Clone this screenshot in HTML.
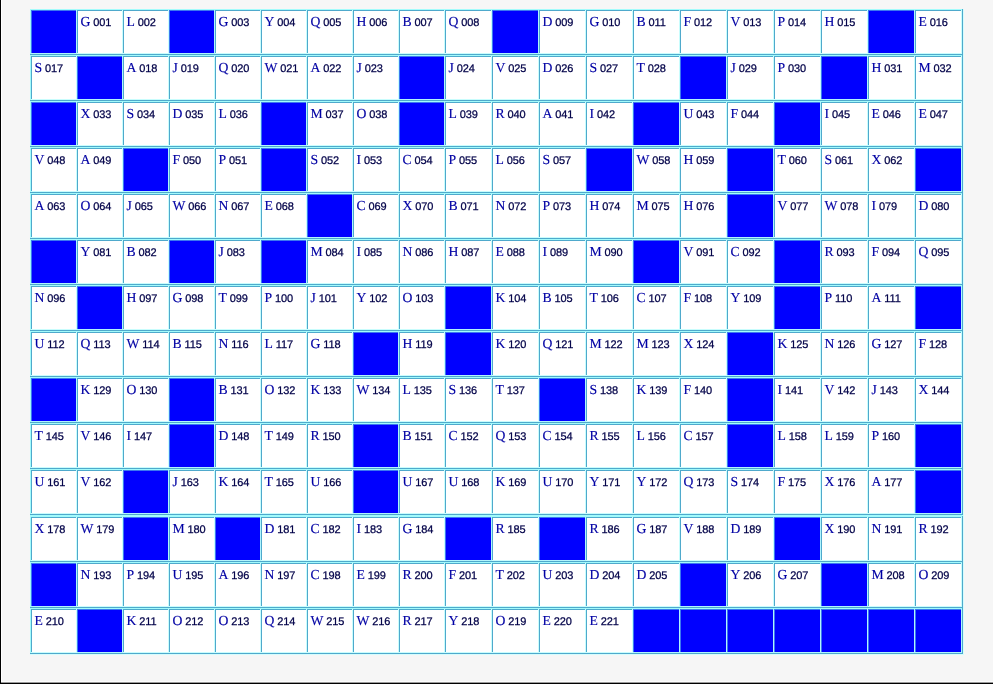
<!DOCTYPE html>
<html lang="en"><head><meta charset="utf-8"><title>Grid</title>
<style>
html,body{margin:0;padding:0}
body{width:993px;height:684px;overflow:hidden;background:#f6f6f6;position:relative;font-family:"Liberation Serif",serif;}
#fl{position:absolute;left:0;top:0;width:1px;height:684px;background:#000}
#fl2{position:absolute;left:1px;top:0;width:1px;height:682px;background:#fff}
#fb2{position:absolute;left:1px;top:681px;width:992px;height:1px;background:#fdfdfd}
#fb3{position:absolute;left:1px;top:682px;width:992px;height:1px;background:#9a9a9a}
#fb{position:absolute;left:0;top:683px;width:993px;height:1px;background:#000}
#g{position:absolute;left:30px;top:9px;width:934px;height:646px;background:#d6fdfd}
#gap{position:absolute;left:0;top:506px;width:933px;height:1px;background:#a2fbfb}
.r{position:absolute;left:0;width:933px;height:46px;box-shadow:inset -1px -1px 0 #4fa9cc,inset 1px 1px 0 #a2fbfb;}
.c{position:absolute;top:1px;height:44px;box-sizing:border-box;background:#fff;box-shadow:inset -1px -1px 0 #c8fdfd,inset 1px 1px 0 #4fa9cc;padding:4px 0 0 3.5px;white-space:nowrap;line-height:15px;font-size:13.7px;color:#0000a4;-webkit-text-stroke:0.15px #0000a4;text-rendering:geometricPrecision;overflow:hidden}
.c.b{background:#0000ff;box-shadow:inset -1px -1px 0 #b0f4fd,inset 1px 1px 0 #3c78f0}
.c i{font-style:normal;font-family:"Liberation Sans",sans-serif;font-size:11px;color:#000048;-webkit-text-stroke:0.25px #000048;letter-spacing:-0.12px}
</style></head>
<body>
<div id="g">
<div id="gap"></div>
<div class="r" style="top:0px">
<div class="c b" style="left:1px;width:46px"></div>
<div class="c" style="left:47px;width:46px">G<i> 001</i></div>
<div class="c" style="left:93px;width:46px">L<i> 002</i></div>
<div class="c b" style="left:139px;width:46px"></div>
<div class="c" style="left:185px;width:46px">G<i> 003</i></div>
<div class="c" style="left:231px;width:46px">Y<i> 004</i></div>
<div class="c" style="left:277px;width:46px">Q<i> 005</i></div>
<div class="c" style="left:323px;width:46px">H<i> 006</i></div>
<div class="c" style="left:369px;width:46px">B<i> 007</i></div>
<div class="c" style="left:415px;width:47px">Q<i> 008</i></div>
<div class="c b" style="left:462px;width:47px"></div>
<div class="c" style="left:509px;width:47px">D<i> 009</i></div>
<div class="c" style="left:556px;width:47px">G<i> 010</i></div>
<div class="c" style="left:603px;width:47px">B<i> 011</i></div>
<div class="c" style="left:650px;width:47px">F<i> 012</i></div>
<div class="c" style="left:697px;width:47px">V<i> 013</i></div>
<div class="c" style="left:744px;width:47px">P<i> 014</i></div>
<div class="c" style="left:791px;width:47px">H<i> 015</i></div>
<div class="c b" style="left:838px;width:47px"></div>
<div class="c" style="left:885px;width:47px">E<i> 016</i></div>
</div>
<div class="r" style="top:46px">
<div class="c" style="left:1px;width:46px">S<i> 017</i></div>
<div class="c b" style="left:47px;width:46px"></div>
<div class="c" style="left:93px;width:46px">A<i> 018</i></div>
<div class="c" style="left:139px;width:46px">J<i> 019</i></div>
<div class="c" style="left:185px;width:46px">Q<i> 020</i></div>
<div class="c" style="left:231px;width:46px">W<i> 021</i></div>
<div class="c" style="left:277px;width:46px">A<i> 022</i></div>
<div class="c" style="left:323px;width:46px">J<i> 023</i></div>
<div class="c b" style="left:369px;width:46px"></div>
<div class="c" style="left:415px;width:47px">J<i> 024</i></div>
<div class="c" style="left:462px;width:47px">V<i> 025</i></div>
<div class="c" style="left:509px;width:47px">D<i> 026</i></div>
<div class="c" style="left:556px;width:47px">S<i> 027</i></div>
<div class="c" style="left:603px;width:47px">T<i> 028</i></div>
<div class="c b" style="left:650px;width:47px"></div>
<div class="c" style="left:697px;width:47px">J<i> 029</i></div>
<div class="c" style="left:744px;width:47px">P<i> 030</i></div>
<div class="c b" style="left:791px;width:47px"></div>
<div class="c" style="left:838px;width:47px">H<i> 031</i></div>
<div class="c" style="left:885px;width:47px">M<i> 032</i></div>
</div>
<div class="r" style="top:92px">
<div class="c b" style="left:1px;width:46px"></div>
<div class="c" style="left:47px;width:46px">X<i> 033</i></div>
<div class="c" style="left:93px;width:46px">S<i> 034</i></div>
<div class="c" style="left:139px;width:46px">D<i> 035</i></div>
<div class="c" style="left:185px;width:46px">L<i> 036</i></div>
<div class="c b" style="left:231px;width:46px"></div>
<div class="c" style="left:277px;width:46px">M<i> 037</i></div>
<div class="c" style="left:323px;width:46px">O<i> 038</i></div>
<div class="c b" style="left:369px;width:46px"></div>
<div class="c" style="left:415px;width:47px">L<i> 039</i></div>
<div class="c" style="left:462px;width:47px">R<i> 040</i></div>
<div class="c" style="left:509px;width:47px">A<i> 041</i></div>
<div class="c" style="left:556px;width:47px">I<i> 042</i></div>
<div class="c b" style="left:603px;width:47px"></div>
<div class="c" style="left:650px;width:47px">U<i> 043</i></div>
<div class="c" style="left:697px;width:47px">F<i> 044</i></div>
<div class="c b" style="left:744px;width:47px"></div>
<div class="c" style="left:791px;width:47px">I<i> 045</i></div>
<div class="c" style="left:838px;width:47px">E<i> 046</i></div>
<div class="c" style="left:885px;width:47px">E<i> 047</i></div>
</div>
<div class="r" style="top:138px">
<div class="c" style="left:1px;width:46px">V<i> 048</i></div>
<div class="c" style="left:47px;width:46px">A<i> 049</i></div>
<div class="c b" style="left:93px;width:46px"></div>
<div class="c" style="left:139px;width:46px">F<i> 050</i></div>
<div class="c" style="left:185px;width:46px">P<i> 051</i></div>
<div class="c b" style="left:231px;width:46px"></div>
<div class="c" style="left:277px;width:46px">S<i> 052</i></div>
<div class="c" style="left:323px;width:46px">I<i> 053</i></div>
<div class="c" style="left:369px;width:46px">C<i> 054</i></div>
<div class="c" style="left:415px;width:47px">P<i> 055</i></div>
<div class="c" style="left:462px;width:47px">L<i> 056</i></div>
<div class="c" style="left:509px;width:47px">S<i> 057</i></div>
<div class="c b" style="left:556px;width:47px"></div>
<div class="c" style="left:603px;width:47px">W<i> 058</i></div>
<div class="c" style="left:650px;width:47px">H<i> 059</i></div>
<div class="c b" style="left:697px;width:47px"></div>
<div class="c" style="left:744px;width:47px">T<i> 060</i></div>
<div class="c" style="left:791px;width:47px">S<i> 061</i></div>
<div class="c" style="left:838px;width:47px">X<i> 062</i></div>
<div class="c b" style="left:885px;width:47px"></div>
</div>
<div class="r" style="top:184px">
<div class="c" style="left:1px;width:46px">A<i> 063</i></div>
<div class="c" style="left:47px;width:46px">O<i> 064</i></div>
<div class="c" style="left:93px;width:46px">J<i> 065</i></div>
<div class="c" style="left:139px;width:46px">W<i> 066</i></div>
<div class="c" style="left:185px;width:46px">N<i> 067</i></div>
<div class="c" style="left:231px;width:46px">E<i> 068</i></div>
<div class="c b" style="left:277px;width:46px"></div>
<div class="c" style="left:323px;width:46px">C<i> 069</i></div>
<div class="c" style="left:369px;width:46px">X<i> 070</i></div>
<div class="c" style="left:415px;width:47px">B<i> 071</i></div>
<div class="c" style="left:462px;width:47px">N<i> 072</i></div>
<div class="c" style="left:509px;width:47px">P<i> 073</i></div>
<div class="c" style="left:556px;width:47px">H<i> 074</i></div>
<div class="c" style="left:603px;width:47px">M<i> 075</i></div>
<div class="c" style="left:650px;width:47px">H<i> 076</i></div>
<div class="c b" style="left:697px;width:47px"></div>
<div class="c" style="left:744px;width:47px">V<i> 077</i></div>
<div class="c" style="left:791px;width:47px">W<i> 078</i></div>
<div class="c" style="left:838px;width:47px">I<i> 079</i></div>
<div class="c" style="left:885px;width:47px">D<i> 080</i></div>
</div>
<div class="r" style="top:230px">
<div class="c b" style="left:1px;width:46px"></div>
<div class="c" style="left:47px;width:46px">Y<i> 081</i></div>
<div class="c" style="left:93px;width:46px">B<i> 082</i></div>
<div class="c b" style="left:139px;width:46px"></div>
<div class="c" style="left:185px;width:46px">J<i> 083</i></div>
<div class="c b" style="left:231px;width:46px"></div>
<div class="c" style="left:277px;width:46px">M<i> 084</i></div>
<div class="c" style="left:323px;width:46px">I<i> 085</i></div>
<div class="c" style="left:369px;width:46px">N<i> 086</i></div>
<div class="c" style="left:415px;width:47px">H<i> 087</i></div>
<div class="c" style="left:462px;width:47px">E<i> 088</i></div>
<div class="c" style="left:509px;width:47px">I<i> 089</i></div>
<div class="c" style="left:556px;width:47px">M<i> 090</i></div>
<div class="c b" style="left:603px;width:47px"></div>
<div class="c" style="left:650px;width:47px">V<i> 091</i></div>
<div class="c" style="left:697px;width:47px">C<i> 092</i></div>
<div class="c b" style="left:744px;width:47px"></div>
<div class="c" style="left:791px;width:47px">R<i> 093</i></div>
<div class="c" style="left:838px;width:47px">F<i> 094</i></div>
<div class="c" style="left:885px;width:47px">Q<i> 095</i></div>
</div>
<div class="r" style="top:276px">
<div class="c" style="left:1px;width:46px">N<i> 096</i></div>
<div class="c b" style="left:47px;width:46px"></div>
<div class="c" style="left:93px;width:46px">H<i> 097</i></div>
<div class="c" style="left:139px;width:46px">G<i> 098</i></div>
<div class="c" style="left:185px;width:46px">T<i> 099</i></div>
<div class="c" style="left:231px;width:46px">P<i> 100</i></div>
<div class="c" style="left:277px;width:46px">J<i> 101</i></div>
<div class="c" style="left:323px;width:46px">Y<i> 102</i></div>
<div class="c" style="left:369px;width:46px">O<i> 103</i></div>
<div class="c b" style="left:415px;width:47px"></div>
<div class="c" style="left:462px;width:47px">K<i> 104</i></div>
<div class="c" style="left:509px;width:47px">B<i> 105</i></div>
<div class="c" style="left:556px;width:47px">T<i> 106</i></div>
<div class="c" style="left:603px;width:47px">C<i> 107</i></div>
<div class="c" style="left:650px;width:47px">F<i> 108</i></div>
<div class="c" style="left:697px;width:47px">Y<i> 109</i></div>
<div class="c b" style="left:744px;width:47px"></div>
<div class="c" style="left:791px;width:47px">P<i> 110</i></div>
<div class="c" style="left:838px;width:47px">A<i> 111</i></div>
<div class="c b" style="left:885px;width:47px"></div>
</div>
<div class="r" style="top:322px">
<div class="c" style="left:1px;width:46px">U<i> 112</i></div>
<div class="c" style="left:47px;width:46px">Q<i> 113</i></div>
<div class="c" style="left:93px;width:46px">W<i> 114</i></div>
<div class="c" style="left:139px;width:46px">B<i> 115</i></div>
<div class="c" style="left:185px;width:46px">N<i> 116</i></div>
<div class="c" style="left:231px;width:46px">L<i> 117</i></div>
<div class="c" style="left:277px;width:46px">G<i> 118</i></div>
<div class="c b" style="left:323px;width:46px"></div>
<div class="c" style="left:369px;width:46px">H<i> 119</i></div>
<div class="c b" style="left:415px;width:47px"></div>
<div class="c" style="left:462px;width:47px">K<i> 120</i></div>
<div class="c" style="left:509px;width:47px">Q<i> 121</i></div>
<div class="c" style="left:556px;width:47px">M<i> 122</i></div>
<div class="c" style="left:603px;width:47px">M<i> 123</i></div>
<div class="c" style="left:650px;width:47px">X<i> 124</i></div>
<div class="c b" style="left:697px;width:47px"></div>
<div class="c" style="left:744px;width:47px">K<i> 125</i></div>
<div class="c" style="left:791px;width:47px">N<i> 126</i></div>
<div class="c" style="left:838px;width:47px">G<i> 127</i></div>
<div class="c" style="left:885px;width:47px">F<i> 128</i></div>
</div>
<div class="r" style="top:368px">
<div class="c b" style="left:1px;width:46px"></div>
<div class="c" style="left:47px;width:46px">K<i> 129</i></div>
<div class="c" style="left:93px;width:46px">O<i> 130</i></div>
<div class="c b" style="left:139px;width:46px"></div>
<div class="c" style="left:185px;width:46px">B<i> 131</i></div>
<div class="c" style="left:231px;width:46px">O<i> 132</i></div>
<div class="c" style="left:277px;width:46px">K<i> 133</i></div>
<div class="c" style="left:323px;width:46px">W<i> 134</i></div>
<div class="c" style="left:369px;width:46px">L<i> 135</i></div>
<div class="c" style="left:415px;width:47px">S<i> 136</i></div>
<div class="c" style="left:462px;width:47px">T<i> 137</i></div>
<div class="c b" style="left:509px;width:47px"></div>
<div class="c" style="left:556px;width:47px">S<i> 138</i></div>
<div class="c" style="left:603px;width:47px">K<i> 139</i></div>
<div class="c" style="left:650px;width:47px">F<i> 140</i></div>
<div class="c b" style="left:697px;width:47px"></div>
<div class="c" style="left:744px;width:47px">I<i> 141</i></div>
<div class="c" style="left:791px;width:47px">V<i> 142</i></div>
<div class="c" style="left:838px;width:47px">J<i> 143</i></div>
<div class="c" style="left:885px;width:47px">X<i> 144</i></div>
</div>
<div class="r" style="top:414px">
<div class="c" style="left:1px;width:46px">T<i> 145</i></div>
<div class="c" style="left:47px;width:46px">V<i> 146</i></div>
<div class="c" style="left:93px;width:46px">I<i> 147</i></div>
<div class="c b" style="left:139px;width:46px"></div>
<div class="c" style="left:185px;width:46px">D<i> 148</i></div>
<div class="c" style="left:231px;width:46px">T<i> 149</i></div>
<div class="c" style="left:277px;width:46px">R<i> 150</i></div>
<div class="c b" style="left:323px;width:46px"></div>
<div class="c" style="left:369px;width:46px">B<i> 151</i></div>
<div class="c" style="left:415px;width:47px">C<i> 152</i></div>
<div class="c" style="left:462px;width:47px">Q<i> 153</i></div>
<div class="c" style="left:509px;width:47px">C<i> 154</i></div>
<div class="c" style="left:556px;width:47px">R<i> 155</i></div>
<div class="c" style="left:603px;width:47px">L<i> 156</i></div>
<div class="c" style="left:650px;width:47px">C<i> 157</i></div>
<div class="c b" style="left:697px;width:47px"></div>
<div class="c" style="left:744px;width:47px">L<i> 158</i></div>
<div class="c" style="left:791px;width:47px">L<i> 159</i></div>
<div class="c" style="left:838px;width:47px">P<i> 160</i></div>
<div class="c b" style="left:885px;width:47px"></div>
</div>
<div class="r" style="top:460px">
<div class="c" style="left:1px;width:46px">U<i> 161</i></div>
<div class="c" style="left:47px;width:46px">V<i> 162</i></div>
<div class="c b" style="left:93px;width:46px"></div>
<div class="c" style="left:139px;width:46px">J<i> 163</i></div>
<div class="c" style="left:185px;width:46px">K<i> 164</i></div>
<div class="c" style="left:231px;width:46px">T<i> 165</i></div>
<div class="c" style="left:277px;width:46px">U<i> 166</i></div>
<div class="c b" style="left:323px;width:46px"></div>
<div class="c" style="left:369px;width:46px">U<i> 167</i></div>
<div class="c" style="left:415px;width:47px">U<i> 168</i></div>
<div class="c" style="left:462px;width:47px">K<i> 169</i></div>
<div class="c" style="left:509px;width:47px">U<i> 170</i></div>
<div class="c" style="left:556px;width:47px">Y<i> 171</i></div>
<div class="c" style="left:603px;width:47px">Y<i> 172</i></div>
<div class="c" style="left:650px;width:47px">Q<i> 173</i></div>
<div class="c" style="left:697px;width:47px">S<i> 174</i></div>
<div class="c" style="left:744px;width:47px">F<i> 175</i></div>
<div class="c" style="left:791px;width:47px">X<i> 176</i></div>
<div class="c" style="left:838px;width:47px">A<i> 177</i></div>
<div class="c b" style="left:885px;width:47px"></div>
</div>
<div class="r" style="top:507px">
<div class="c" style="left:1px;width:46px">X<i> 178</i></div>
<div class="c" style="left:47px;width:46px">W<i> 179</i></div>
<div class="c b" style="left:93px;width:46px"></div>
<div class="c" style="left:139px;width:46px">M<i> 180</i></div>
<div class="c b" style="left:185px;width:46px"></div>
<div class="c" style="left:231px;width:46px">D<i> 181</i></div>
<div class="c" style="left:277px;width:46px">C<i> 182</i></div>
<div class="c" style="left:323px;width:46px">I<i> 183</i></div>
<div class="c" style="left:369px;width:46px">G<i> 184</i></div>
<div class="c b" style="left:415px;width:47px"></div>
<div class="c" style="left:462px;width:47px">R<i> 185</i></div>
<div class="c b" style="left:509px;width:47px"></div>
<div class="c" style="left:556px;width:47px">R<i> 186</i></div>
<div class="c" style="left:603px;width:47px">G<i> 187</i></div>
<div class="c" style="left:650px;width:47px">V<i> 188</i></div>
<div class="c" style="left:697px;width:47px">D<i> 189</i></div>
<div class="c b" style="left:744px;width:47px"></div>
<div class="c" style="left:791px;width:47px">X<i> 190</i></div>
<div class="c" style="left:838px;width:47px">N<i> 191</i></div>
<div class="c" style="left:885px;width:47px">R<i> 192</i></div>
</div>
<div class="r" style="top:553px">
<div class="c b" style="left:1px;width:46px"></div>
<div class="c" style="left:47px;width:46px">N<i> 193</i></div>
<div class="c" style="left:93px;width:46px">P<i> 194</i></div>
<div class="c" style="left:139px;width:46px">U<i> 195</i></div>
<div class="c" style="left:185px;width:46px">A<i> 196</i></div>
<div class="c" style="left:231px;width:46px">N<i> 197</i></div>
<div class="c" style="left:277px;width:46px">C<i> 198</i></div>
<div class="c" style="left:323px;width:46px">E<i> 199</i></div>
<div class="c" style="left:369px;width:46px">R<i> 200</i></div>
<div class="c" style="left:415px;width:47px">F<i> 201</i></div>
<div class="c" style="left:462px;width:47px">T<i> 202</i></div>
<div class="c" style="left:509px;width:47px">U<i> 203</i></div>
<div class="c" style="left:556px;width:47px">D<i> 204</i></div>
<div class="c" style="left:603px;width:47px">D<i> 205</i></div>
<div class="c b" style="left:650px;width:47px"></div>
<div class="c" style="left:697px;width:47px">Y<i> 206</i></div>
<div class="c" style="left:744px;width:47px">G<i> 207</i></div>
<div class="c b" style="left:791px;width:47px"></div>
<div class="c" style="left:838px;width:47px">M<i> 208</i></div>
<div class="c" style="left:885px;width:47px">O<i> 209</i></div>
</div>
<div class="r" style="top:599px">
<div class="c" style="left:1px;width:46px">E<i> 210</i></div>
<div class="c b" style="left:47px;width:46px"></div>
<div class="c" style="left:93px;width:46px">K<i> 211</i></div>
<div class="c" style="left:139px;width:46px">O<i> 212</i></div>
<div class="c" style="left:185px;width:46px">O<i> 213</i></div>
<div class="c" style="left:231px;width:46px">Q<i> 214</i></div>
<div class="c" style="left:277px;width:46px">W<i> 215</i></div>
<div class="c" style="left:323px;width:46px">W<i> 216</i></div>
<div class="c" style="left:369px;width:46px">R<i> 217</i></div>
<div class="c" style="left:415px;width:47px">Y<i> 218</i></div>
<div class="c" style="left:462px;width:47px">O<i> 219</i></div>
<div class="c" style="left:509px;width:47px">E<i> 220</i></div>
<div class="c" style="left:556px;width:47px">E<i> 221</i></div>
<div class="c b" style="left:603px;width:47px"></div>
<div class="c b" style="left:650px;width:47px"></div>
<div class="c b" style="left:697px;width:47px"></div>
<div class="c b" style="left:744px;width:47px"></div>
<div class="c b" style="left:791px;width:47px"></div>
<div class="c b" style="left:838px;width:47px"></div>
<div class="c b" style="left:885px;width:47px"></div>
</div>
</div>
<div id="fl"></div><div id="fl2"></div><div id="fb2"></div><div id="fb3"></div><div id="fb"></div>
</body></html>
